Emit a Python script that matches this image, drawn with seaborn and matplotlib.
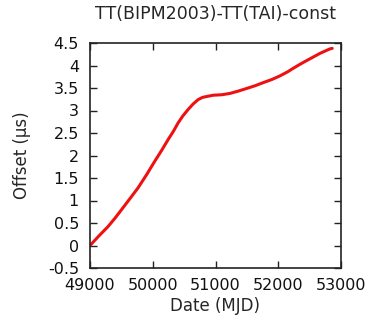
import numpy as np
import pandas as pd
import seaborn as sns
import matplotlib
matplotlib.use("Agg")
import matplotlib.pyplot as plt

mjd = [49000, 49140, 49287, 49400, 49499, 49630, 49765, 49900, 50031, 50140,
       50243, 50330, 50402, 50480, 50562, 50640, 50721, 50790, 50854, 50965,
       51100, 51231, 51360, 51497, 51630, 51762, 51900, 52028, 52150, 52241,
       52350, 52454, 52560, 52666, 52760, 52825, 52860]
offset = [0.00, 0.21, 0.42, 0.61, 0.79, 1.03, 1.28, 1.57, 1.87, 2.11,
          2.35, 2.54, 2.72, 2.88, 3.02, 3.14, 3.24, 3.29, 3.31, 3.34,
          3.35, 3.38, 3.43, 3.49, 3.55, 3.62, 3.69, 3.77, 3.86, 3.94,
          4.03, 4.11, 4.19, 4.27, 4.33, 4.37, 4.38]

df = pd.DataFrame({"mjd": mjd, "offset": offset})

sns.set_style("ticks")
plt.rcParams["font.family"] = ["DejaVu Sans"]
plt.rcParams["xtick.direction"] = "in"
plt.rcParams["ytick.direction"] = "in"

fig = plt.figure(figsize=(3.82, 3.24), dpi=100)
ax = fig.add_axes([90 / 382, 1 - 268 / 324, 251 / 382, 225 / 324])

sns.lineplot(data=df, x="mjd", y="offset", color="#ee1111", linewidth=2.2, ax=ax)

ax.set_xlim(49000, 53000)
ax.set_ylim(-0.5, 4.5)
ax.set_xticks([49000, 50000, 51000, 52000, 53000])
ax.set_yticks(np.arange(-0.5, 4.51, 0.5))
ax.set_yticklabels(["-0.5", "0", "0.5", "1", "1.5", "2", "2.5", "3", "3.5", "4", "4.5"])
ax.tick_params(axis="both", labelsize=11.5, length=5, width=1, top=True, right=True,
               colors="#222222", labelcolor="#111111")
ax.tick_params(axis="x", pad=7)
ax.tick_params(axis="y", pad=8)
for s in ax.spines.values():
    s.set_linewidth(1.2)
    s.set_color("#222222")

ax.set_xlabel("Date (MJD)", fontsize=12, labelpad=3)
ax.set_ylabel("Offset (\u00b5s)", fontsize=12, labelpad=12)
ax.set_title("TT(BIPM2003)-TT(TAI)-const", fontsize=12.5, pad=17)

fig.savefig("out.png", dpi=100)
